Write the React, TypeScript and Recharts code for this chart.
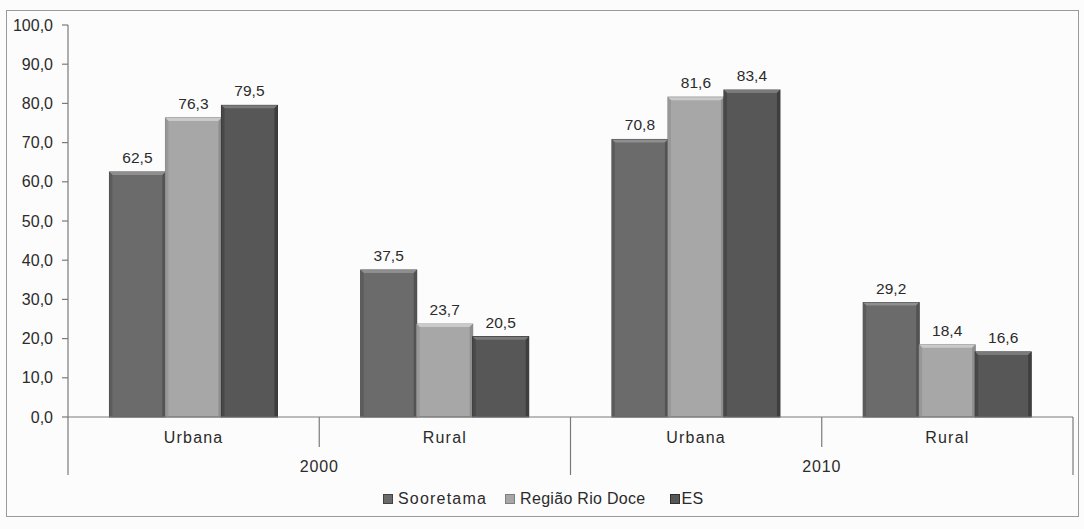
import React from 'react';
import { BarChart, Bar, XAxis, YAxis, Legend, LabelList } from 'recharts';

const categories = ['Urbana', 'Rural', 'Urbana', 'Rural'];
const years = ['2000', '2000', '2010', '2010'];
const sooretama = [62.5, 37.5, 70.8, 29.2];
const regiaoRioDoce = [76.3, 23.7, 81.6, 18.4];
const es = [79.5, 20.5, 83.4, 16.6];
const yTicks = [0, 10, 20, 30, 40, 50, 60, 70, 80, 90, 100];

const seriesNames = ['Sooretama', 'Região Rio Doce', 'ES'];
const seriesKeys = ['sooretama', 'regiao', 'es'];
const seriesColors = ['#6b6b6b', '#a7a7a7', '#575757'];

const data = categories.map((cat, i) => ({
  cat,
  year: years[i],
  sooretama: sooretama[i],
  regiao: regiaoRioDoce[i],
  es: es[i],
}));

const FONT = '"Liberation Sans", Arial, sans-serif';
const W = 1084;
const H = 529;
const MARGIN = { top: 25, right: 11, bottom: 0, left: 0 };
const Y_AXIS_W = 68;
const TEXT = '#2b2b2b';

const fmt = (v: number) => v.toFixed(1).replace('.', ',');

function shade(hex: string, amt: number) {
  const n = parseInt(hex.slice(1), 16);
  const c = (s: number) => Math.max(0, Math.min(255, ((n >> s) & 255) + amt));
  return `rgb(${c(16)},${c(8)},${c(0)})`;
}

function BevelBar(props: any) {
  const { x, y, width, height, fill } = props;
  if (!height || height <= 0) return null;
  const b = 3;
  return (
    <g>
      <rect x={x} y={y} width={width} height={height} fill={fill} stroke={shade(fill, -40)} strokeWidth={1} />
      <polygon
        points={`${x},${y} ${x + width},${y} ${x + width - b},${y + b} ${x + b},${y + b}`}
        fill={shade(fill, 35)}
      />
      <polygon
        points={`${x},${y} ${x + b},${y + b} ${x + b},${y + height} ${x},${y + height}`}
        fill={shade(fill, -15)}
      />
      <polygon
        points={`${x + width},${y} ${x + width - b},${y + b} ${x + width - b},${y + height} ${x + width},${y + height}`}
        fill={shade(fill, -25)}
      />
    </g>
  );
}

function CatTick(props: any) {
  const { x, y, payload } = props;
  const i: number = payload.index;
  const n = categories.length;
  const plotW = W - Y_AXIS_W - MARGIN.right;
  const half = payload.offset || plotW / n / 2;
  const left = x - half;
  const right = x + half;
  const first = i === 0 || years[i] !== years[i - 1];
  const last = i === n - 1 || years[i] !== years[i + 1];
  const count = years.filter((yv) => yv === years[i]).length;
  const stroke = '#7a7a7a';
  return (
    <g>
      <line x1={left} y1={y} x2={left} y2={y + (first ? 58 : 30)} stroke={stroke} strokeWidth={1.2} />
      {i === n - 1 && (
        <line x1={right} y1={y} x2={right} y2={y + 58} stroke={stroke} strokeWidth={1.2} />
      )}
      <text x={x} y={y + 26} textAnchor="middle" fontFamily={FONT} fontSize={16} letterSpacing={1.2} fill={TEXT}>
        {payload.value}
      </text>
      {last && (
        <text
          x={right - count * half}
          y={y + 55}
          textAnchor="middle"
          fontFamily={FONT}
          fontSize={16}
          letterSpacing={0.8}
          fill={TEXT}
        >
          {years[i]}
        </text>
      )}
    </g>
  );
}

function LegendContent() {
  return (
    <div style={{ display: 'flex', alignItems: 'center', fontFamily: FONT, fontSize: 16, color: TEXT }}>
      {seriesNames.map((name, i) => (
        <div key={name} style={{ display: 'flex', alignItems: 'center', marginRight: i === 0 ? 18 : 24 }}>
          <span
            style={{
              display: 'inline-block',
              width: 8,
              height: 8,
              background: seriesColors[i],
              border: `1px solid ${shade(seriesColors[i], -40)}`,
              marginRight: i === 2 ? 2 : 5,
            }}
          />
          <span style={{ letterSpacing: i === 0 ? 1.2 : 0.3 }}>{name}</span>
        </div>
      ))}
    </div>
  );
}

export default function App() {
  return (
    <div style={{ position: 'absolute', left: 0, top: 0, width: W, height: H, background: '#fcfcfc' }}>
      <div
        style={{
          position: 'absolute',
          left: 6,
          top: 10,
          width: 1071,
          height: 505,
          border: '1.5px solid #9a9a9a',
        }}
      />
      <div style={{ position: 'absolute', left: 0, top: 0 }}>
        <BarChart width={W} height={H} data={data} margin={MARGIN} barCategoryGap="16.5%" barGap={0}>
          <YAxis
            width={Y_AXIS_W}
            domain={[0, 100]}
            ticks={yTicks}
            interval={0}
            tickFormatter={fmt}
            axisLine={{ stroke: '#7a7a7a', strokeWidth: 1.2 }}
            tickLine={{ stroke: '#7a7a7a', strokeWidth: 1.2 }}
            tickSize={6}
            tickMargin={9}
            tick={{ fontFamily: FONT, fontSize: 16, fill: TEXT }}
          />
          <XAxis
            dataKey="cat"
            height={112}
            interval={0}
            tickLine={false}
            tickSize={0}
            tickMargin={0}
            axisLine={{ stroke: '#7a7a7a', strokeWidth: 1.2 }}
            tick={<CatTick />}
          />
          <Legend
            layout="horizontal"
            verticalAlign="middle"
            align="center"
            wrapperStyle={{ top: 490, left: 383, width: 360, height: 22 }}
            content={<LegendContent />}
          />
          {seriesKeys.map((k, i) => (
            <Bar
              key={k}
              dataKey={k}
              name={seriesNames[i]}
              fill={seriesColors[i]}
              isAnimationActive={false}
              shape={<BevelBar />}
            >
              <LabelList
                dataKey={k}
                position="top"
                offset={9}
                formatter={(v: any) => fmt(Number(v))}
                style={{ fontFamily: FONT, fontSize: 15.5, fill: TEXT }}
              />
            </Bar>
          ))}
        </BarChart>
      </div>
    </div>
  );
}
